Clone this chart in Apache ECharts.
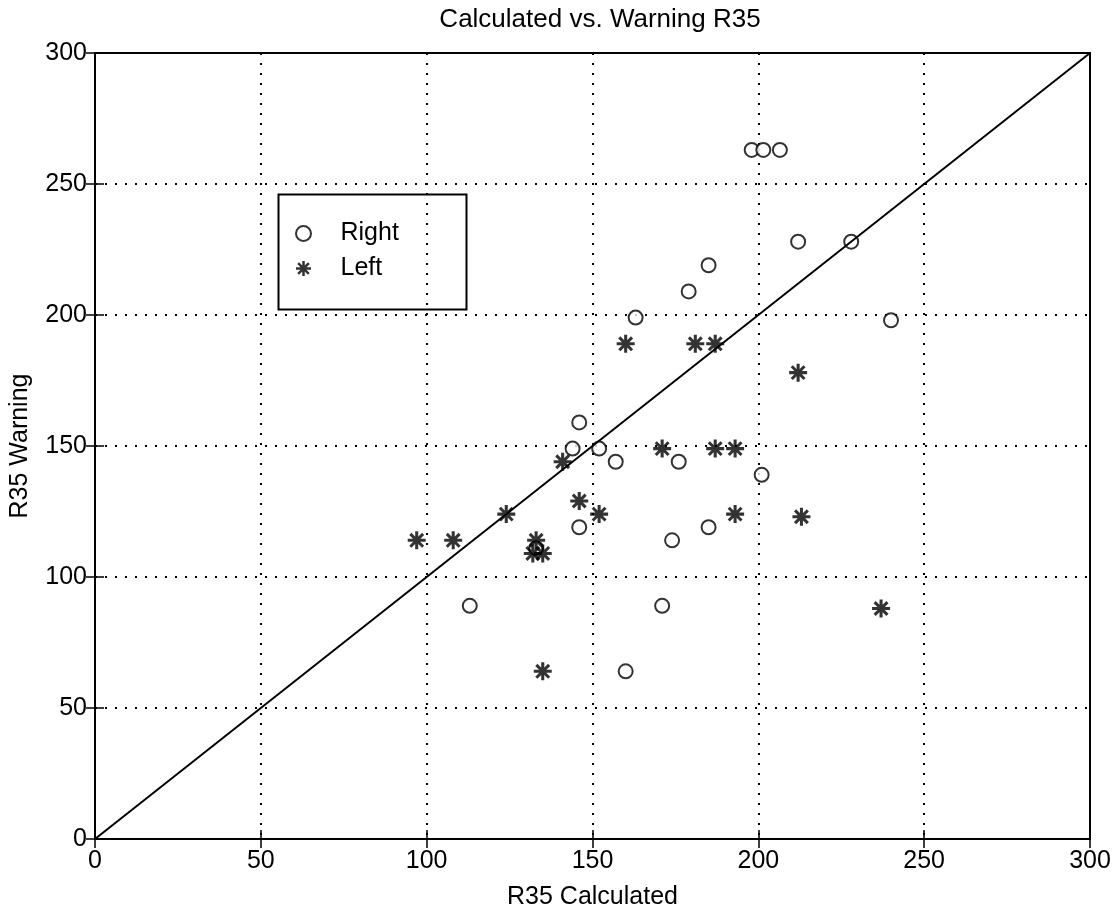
<!DOCTYPE html>
<html><head><meta charset="utf-8">
<script src="https://cdn.jsdelivr.net/npm/echarts@6/dist/echarts.min.js"></script>
<style>html,body{margin:0;padding:0;background:#fff}#c{width:1115px;height:915px}</style>
</head><body><div id="c"></div>
<script>
const titleText = 'Calculated vs. Warning R35';
const xName = 'R35 Calculated';
const yName = 'R35 Warning';
const ticks = [0, 50, 100, 150, 200, 250, 300];
const rightX = [198, 201.5, 206.5, 212, 228, 185, 179, 163, 240, 146, 144, 152, 157, 176, 201, 146, 185, 174, 133, 113, 171, 160];
const rightY = [263, 263, 263, 228, 228, 219, 209, 199, 198, 159, 149, 149, 144, 144, 139, 119, 119, 114, 111, 89, 89, 64];
const leftX = [160, 181, 187, 212, 141, 146, 124, 152, 193, 213, 97, 108, 133, 132, 135, 135, 237, 171, 187, 193];
const leftY = [189, 189, 189, 178, 144, 129, 124, 124, 124, 123, 114, 114, 114, 109, 109, 64, 88, 149, 149, 149];
const diagX = [0, 300];
const diagY = [0, 300];

const star = 'path://M-1,-0.17 L1,-0.17 L1,0.17 L-1,0.17 Z M-0.17,-1 L0.17,-1 L0.17,1 L-0.17,1 Z M-0.59,-0.83 L0.83,0.59 L0.59,0.83 L-0.83,-0.59 Z M0.59,-0.83 L0.83,-0.59 L-0.59,0.83 L-0.83,0.59 Z';
const font = 'Liberation Sans, Arial, Helvetica, sans-serif';

const zip = (a, b) => a.map((v, i) => [v, b[i]]);
const chart = echarts.init(document.getElementById('c'), null, {renderer: 'canvas'});
const axisCommon = {
  type: 'value', min: 0, max: 300, interval: 50,
  axisLine: {show: true, lineStyle: {color: '#000', width: 2}},
  axisTick: {show: true, inside: true, length: 9, lineStyle: {color: '#000', width: 1.5}},
  splitLine: {show: true, lineStyle: {color: '#000', type: [2, 8], width: 2}},
  axisLabel: {color: '#000', fontSize: 25, fontFamily: font},
  nameTextStyle: {color: '#000', fontSize: 25, fontFamily: font}
};
chart.setOption({
  animation: false,
  backgroundColor: '#fff',
  title: {text: titleText, left: 595, textAlign: 'center', top: 2,
    textStyle: {color: '#000', fontSize: 26, fontWeight: 'normal', fontFamily: font}},
  grid: {left: 93, right: 25, top: 53, bottom: 72, show: true, borderColor: '#000', borderWidth: 2},
  xAxis: [
    Object.assign({}, axisCommon, {position: 'bottom', name: xName, nameLocation: 'middle', nameGap: 46,
      axisLabel: Object.assign({}, axisCommon.axisLabel, {margin: 10})}),
    Object.assign({}, axisCommon, {position: 'top', axisLabel: {show: false}, splitLine: {show: false}})
  ],
  yAxis: [
    Object.assign({}, axisCommon, {position: 'left', name: yName, nameLocation: 'middle', nameGap: 62,
      axisLabel: Object.assign({}, axisCommon.axisLabel, {margin: 8})}),
    Object.assign({}, axisCommon, {position: 'right', axisLabel: {show: false}, splitLine: {show: false}})
  ],
  legend: {
    orient: 'vertical', left: 290, top: 216, itemGap: 10, itemWidth: 28, itemHeight: 15,
    textStyle: {color: '#000', fontSize: 25, fontFamily: font, padding: [0, 0, 0, 18]},
    data: [
      {name: 'Right', icon: 'emptyCircle', itemStyle: {color: '#000', borderColor: '#000', borderWidth: 1.5}},
      {name: 'Left', icon: star, itemStyle: {color: '#000'}}
    ]
  },
  graphic: [{type: 'rect', left: 276, top: 192, shape: {width: 188, height: 115},
    style: {fill: 'none', stroke: '#000', lineWidth: 2}, z: 0}],
  series: [
    {name: 'Diag', type: 'line', data: zip(diagX, diagY), symbol: 'none',
      lineStyle: {color: '#000', width: 2}, silent: true},
    {name: 'Right', type: 'scatter', data: zip(rightX, rightY), symbol: 'emptyCircle', symbolSize: 14,
      itemStyle: {color: '#000', borderColor: '#000', borderWidth: 2.2}},
    {name: 'Left', type: 'scatter', data: zip(leftX, leftY), symbol: star, symbolSize: 18,
      itemStyle: {color: '#000'}}
  ]
});
</script></body></html>
